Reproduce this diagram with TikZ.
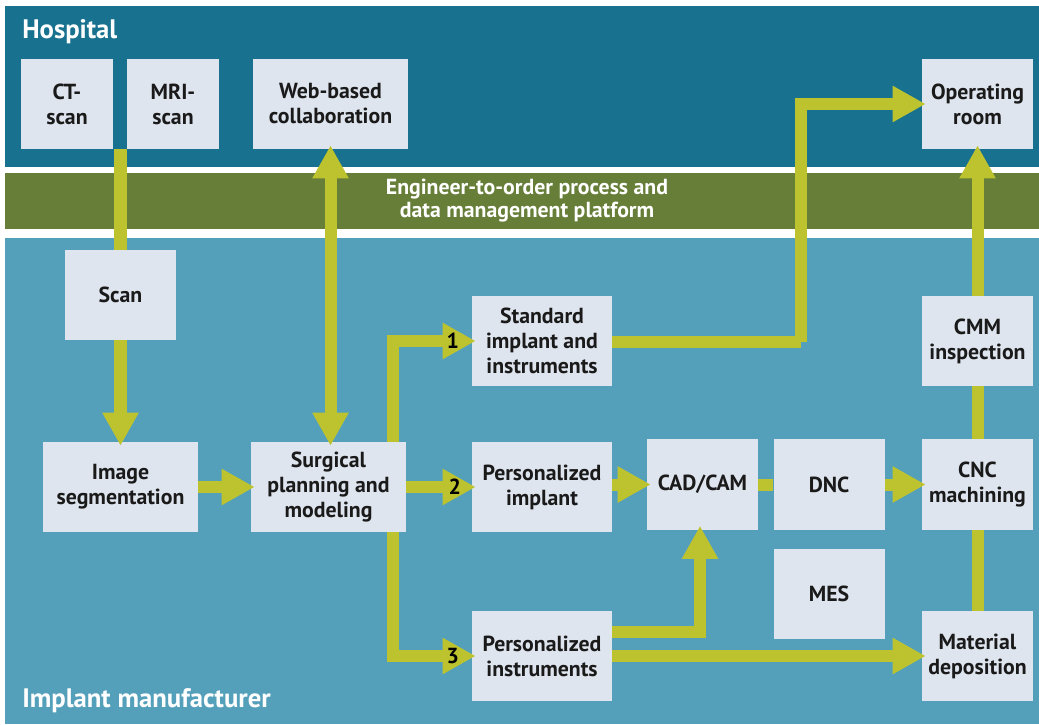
\documentclass[tikz,border=0pt]{standalone}
\usepackage{fontspec}
\setmainfont{PT Sans}
\usetikzlibrary{arrows.meta, positioning}
\definecolor{hospblue}{HTML}{17718F}
\definecolor{platgreen}{HTML}{667E37}
\definecolor{mfgblue}{HTML}{54A0BA}
\definecolor{boxgray}{HTML}{DFE5EE}
\definecolor{flowgreen}{HTML}{BDC32F}
\definecolor{boxtext}{HTML}{1A1A1A}
\newcommand\boxfont{\fontsize{15.5}{17.8}\selectfont\bfseries}
\newcommand\platfont{\fontsize{15.5}{16.4}\selectfont\bfseries}
\newcommand\bandfont{\fontsize{19}{22}\selectfont\bfseries}

\begin{document}
\begin{tikzpicture}[x=0.025cm, y=-0.025cm,
    stepbox/.style={
      rectangle, fill=boxgray, inner sep=0pt,
      minimum width=2.775cm, minimum height=2.25cm,
      font=\boxfont, text=boxtext, align=center
    },
    narrow/.style={minimum width=2.3cm},
    wide/.style={minimum width=3.5cm},
    wider/.style={minimum width=3.875cm},
    band/.style={font=\bandfont, text=white, anchor=base west, inner sep=0pt},
    link/.style={line width=0.3cm, flowgreen},
    flow/.style={link, -{Triangle[width=0.85cm, length=0.825cm]}, shorten >=-0.1cm},
    dflow/.style={link, {Triangle[width=0.85cm, length=0.825cm]}-{Triangle[width=0.85cm, length=0.825cm]},
      shorten >=-0.1cm, shorten <=-0.1cm},
    num/.style={font=\boxfont, text=black, inner sep=0pt}
  ]
  \useasboundingbox (0,0) rectangle (1039,724);

  % Bands
  \fill[hospblue] (5,6) rectangle (1039,167);
  \fill[platgreen] (5,173) rectangle (1039,229);
  \fill[mfgblue] (5,238) rectangle (1039,724);

  \node[band] (hospital) at (22,38) {Hospital};
  \node[band] (maker) at (22,707) {Implant manufacturer};
  \node[font=\platfont, text=white, align=center] (platform) at (527,201)
    {Engineer-to-order process and\\data management platform};

  % Hospital
  \node[stepbox, narrow] (ct) at (67,104) {CT-\\scan};
  \node[stepbox, narrow] (mri) at (173,104) {MRI-\\scan};
  \node[stepbox, wider] (web) at (330.5,104) {Web-based\\collaboration};
  \node[stepbox] (oproom) at (977.5,104) {Operating\\room};

  % Implant manufacturer
  \node[stepbox, minimum width=2.75cm] (scan) at (120.5,295) {Scan};
  \node[stepbox, wider] (imgseg) at (120.5,487) {Image\\segmentation};
  \node[stepbox, wider] (surg) at (328.5,487) {Surgical\\planning and\\modeling};
  \node[stepbox, wide] (std) at (542,341) {Standard\\implant and\\instruments};
  \node[stepbox, wide] (pimpl) at (542,487) {Personalized\\implant};
  \node[stepbox, wide] (pinstr) at (542,656) {Personalized\\instruments};
  \node[stepbox] (cadcam) at (702.5,484.5) {CAD/CAM};
  \node[stepbox, right=0.375cm of cadcam] (dnc) {DNC};
  \node[stepbox, below=0.475cm of dnc] (mes) {MES};
  \node[stepbox] (cnc) at (977.5,484.5) {CNC\\machining};
  \node[stepbox] (cmm) at (977.5,341) {CMM\\inspection};
  \node[stepbox] (matdep) at (977.5,656) {Material\\deposition};

  \coordinate (scanin) at (120.5,149);
  \coordinate (bend) at (801,342);

  % Arrows
  \draw[link] (scanin) -- (scan.north);
  \draw[flow] (scan) -- (imgseg);
  \draw[flow] (imgseg) -- (surg);
  \draw[dflow] (web.south) -- (web.south |- surg.north);
  \draw[flow] ([xshift=-0.325cm]surg.north east) |- node[num, pos=0.88] {1} (std.west);
  \draw[flow] (surg) -- node[num, pos=0.74] {2} (pimpl);
  \draw[flow] ([xshift=-0.325cm]surg.south east) |- node[num, pos=0.88] {3} (pinstr.west);
  \draw[link] (std.east |- bend) -- (bend);
  \draw[flow] (bend) |- (oproom.west);
  \draw[flow] (pimpl.east |- cadcam) -- (cadcam);
  \draw[link] (cadcam) -- (dnc);
  \draw[flow] (dnc) -- (cnc);
  \draw[link] (cnc) -- (cmm);
  \draw[flow] (cmm) -- (oproom);
  \draw[link] (matdep) -- (cnc);
  \draw[flow] ([yshift=0.6cm]pinstr.east) -| ([xshift=-0.0625cm]cadcam.south);
  \draw[flow] (pinstr) -- (matdep);
\end{tikzpicture}
\end{document}
